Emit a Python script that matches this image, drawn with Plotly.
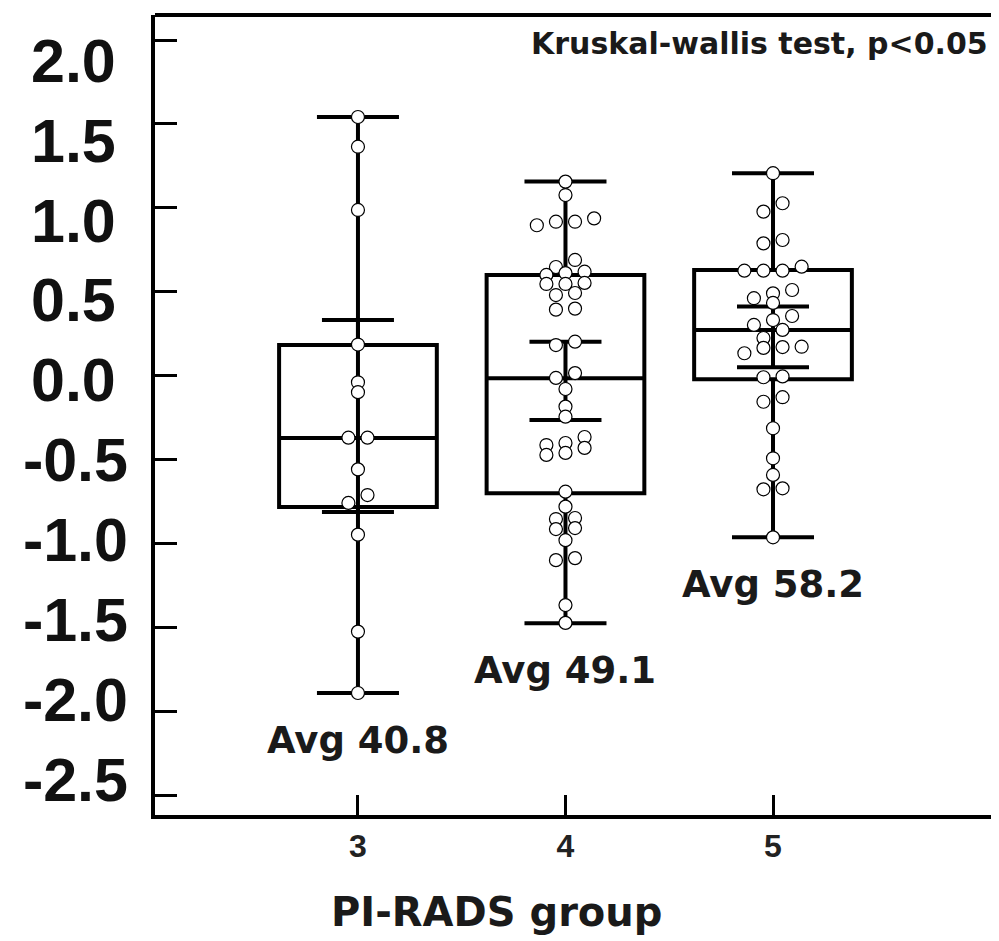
import plotly.graph_objects as go

# PI-RADS groups
groups = [3, 4, 5]
avg_labels = ["Avg 40.8", "Avg 49.1", "Avg 58.2"]

# box statistics (whiskers = min / max)
box_min = [-1.892, -1.476, -0.964]
box_q1 = [-0.783, -0.701, -0.022]
box_median = [-0.372, -0.016, 0.272]
box_q3 = [0.182, 0.600, 0.629]
box_max = [1.541, 1.156, 1.206]

# inner interval bar
ci_low = [-0.813, -0.265, 0.049]
ci_high = [0.331, 0.202, 0.411]

# individual observations
pts_3 = [1.541, 1.364, 0.987, 0.185, -0.040, -0.099, -0.370, -0.370,
         -0.559, -0.712, -0.759, -0.948, -1.526, -1.892]
pts_4 = [1.156, 1.076, 0.937, 0.917, 0.917, 0.896, 0.689, 0.647, 0.619,
         0.611, 0.600, 0.552, 0.546, 0.546, 0.492, 0.480, 0.399, 0.393,
         0.202, 0.182, 0.015, -0.014, -0.080, -0.185, -0.245, -0.366,
         -0.402, -0.414, -0.431, -0.461, -0.473, -0.692, -0.781, -0.849,
         -0.855, -0.909, -0.915, -0.981, -1.088, -1.100, -1.368, -1.474]
pts_5 = [1.206, 1.027, 0.977, 0.808, 0.788, 0.649, 0.625, 0.625, 0.625,
         0.510, 0.490, 0.461, 0.433, 0.355, 0.331, 0.302, 0.272, 0.224,
         0.172, 0.170, 0.165, 0.133, -0.005, -0.010, -0.129, -0.156,
         -0.314, -0.493, -0.592, -0.672, -0.678, -0.964]

y_ticks = [2.0, 1.5, 1.0, 0.5, 0.0, -0.5, -1.0, -1.5, -2.0, -2.5]


def swarm(vals, center, step=0.092, bin_h=0.055):
    # simple row based beeswarm: close values share a row, spread symmetrically
    rows = []
    for v in sorted(vals, reverse=True):
        if rows and rows[-1][0] - v < bin_h:
            rows[-1].append(v)
        else:
            rows.append([v])
    xs, ys = [], []
    for row in rows:
        n = len(row)
        for i, v in enumerate(sorted(row)):
            xs.append(center + (i - (n - 1) / 2) * step)
            ys.append(v)
    return xs, ys


fig = go.Figure()

fig.add_trace(go.Box(
    x=groups,
    q1=box_q1, median=box_median, q3=box_q3,
    lowerfence=box_min, upperfence=box_max,
    width=0.76, whiskerwidth=0.52,
    line=dict(color="black", width=4),
    fillcolor="rgba(0,0,0,0)",
    boxpoints=False, hoverinfo="skip", showlegend=False,
))

ci_mid = [(lo + hi) / 2 for lo, hi in zip(ci_low, ci_high)]
fig.add_trace(go.Scatter(
    x=groups, y=ci_mid, mode="markers",
    marker=dict(size=1, color="rgba(0,0,0,0)"),
    error_y=dict(type="data", symmetric=False,
                 array=[hi - m for hi, m in zip(ci_high, ci_mid)],
                 arrayminus=[m - lo for lo, m in zip(ci_low, ci_mid)],
                 width=36, thickness=4, color="black"),
    hoverinfo="skip", showlegend=False,
))

for g, pts in zip(groups, [pts_3, pts_4, pts_5]):
    xs, ys = swarm(pts, g)
    fig.add_trace(go.Scatter(
        x=xs, y=ys, mode="markers",
        marker=dict(size=13, color="white", line=dict(color="black", width=1.2)),
        showlegend=False,
    ))

for g, lab, lo in zip(groups, avg_labels, box_min):
    fig.add_annotation(x=g, y=lo - 0.28, text=lab, showarrow=False,
                       font=dict(family="DejaVu Sans", size=37, color="#1a1a1a", weight="bold"))

fig.add_annotation(xref="paper", yref="paper", x=0.716, y=0.965,
                   xanchor="center", yanchor="middle",
                   text="Kruskal-wallis test, p<0.05", showarrow=False,
                   font=dict(family="DejaVu Sans", size=30, color="#1a1a1a", weight="bold"))

fig.add_annotation(xref="paper", yref="paper", x=0.405, y=-0.121,
                   xanchor="center", yanchor="middle",
                   text="PI-RADS group", showarrow=False,
                   font=dict(family="DejaVu Sans", size=40, color="#1a1a1a", weight="bold"))

# top frame line
fig.add_shape(type="line", xref="paper", yref="paper", x0=0, x1=1, y0=1, y1=1,
              line=dict(color="black", width=4))

# page body has an 8px default margin, so the margins are trimmed by that
fig.update_layout(
    width=999, height=941,
    margin=dict(l=147, r=8, t=7, b=134),
    plot_bgcolor="white", paper_bgcolor="white",
    xaxis=dict(range=[2.022, 6.089], tickvals=groups, ticks="inside",
               ticklen=20, tickwidth=3, tickcolor="black",
               showline=True, linewidth=4, linecolor="black",
               showgrid=False, zeroline=False, automargin=False,
               tickfont=dict(family="Liberation Sans", size=32, color="#222", weight="bold")),
    yaxis=dict(range=[-2.619, 2.149], tickvals=y_ticks, ticks="inside",
               ticklen=22, tickwidth=3, tickcolor="black",
               showline=True, linewidth=4, linecolor="black",
               showgrid=False, zeroline=False, showticklabels=False,
               automargin=False),
    yaxis2=dict(range=[-2.722, 2.284], overlaying="y", side="left", anchor="x",
                tickvals=y_ticks,
                ticktext=[("%.1f" % v) if v < 0 else ("%.1f\u2009" % v) for v in y_ticks],
                ticks="", showline=False, showgrid=False, zeroline=False,
                ticklabelstandoff=26, automargin=False,
                tickfont=dict(family="Liberation Sans", size=61, color="#111", weight="bold")),
)

# dummy trace so the label axis is drawn
fig.add_trace(go.Scatter(x=[None], y=[None], yaxis="y2", showlegend=False))

fig.write_html("out.html")
